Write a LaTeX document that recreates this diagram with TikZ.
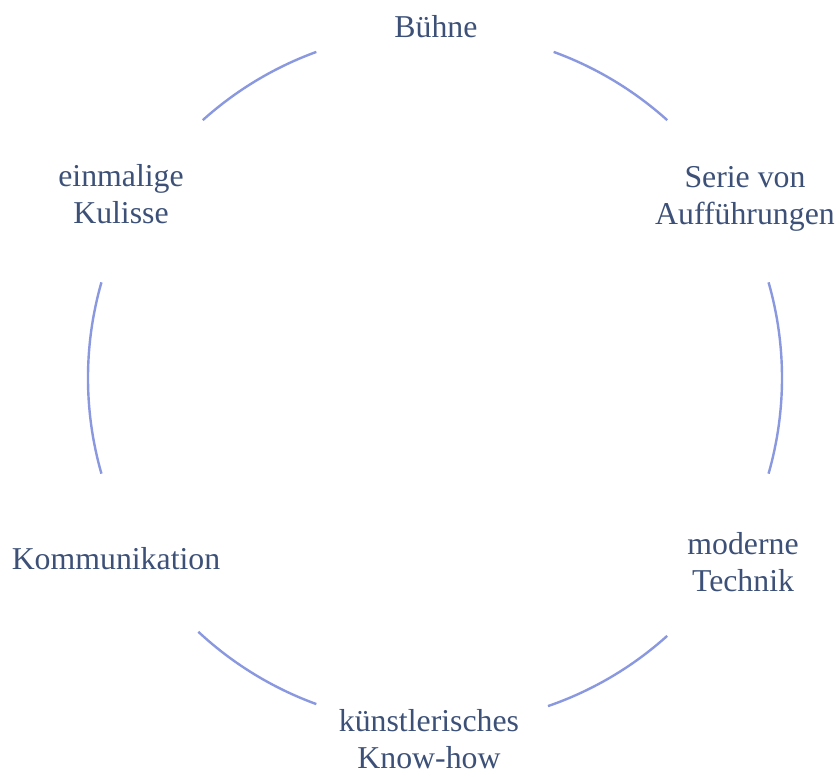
\documentclass[tikz,border=0pt]{standalone}
\usepackage{fontspec}
\setmainfont{Liberation Serif}
\definecolor{labelblue}{HTML}{3D5178}
\definecolor{ringblue}{HTML}{8A98E0}
\tikzset{
  label text/.style = {text = labelblue, align = center, inner sep = 0pt,
    font = \fontsize{15.9}{18.5}\selectfont},
  ring/.style = {draw = ringblue, line width = 1.2pt}
}

\begin{document}
\begin{tikzpicture}[x = 0.5pt, y = 0.5pt]
      \useasboundingbox (-435, -398) rectangle (405, 378);
      \coordinate (c) at (0, 0);
      \node[label text] (buehne) at (1, 351) {Bühne};
      \node[label text] (serie) at (310, 179) {Serie von\\Aufführungen};
      \node[label text] (technik) at (308, -184) {moderne\\Technik};
      \node[label text] (knowhow) at (-6, -361) {künstlerisches\\Know-how};
      \node[label text] (komm) at (-319, -181) {Kommunikation};
      \node[label text] (kulisse) at (-314, 184) {einmalige\\Kulisse};
      \draw[ring] (c) ++(48:173.5pt) arc[start angle = 48, end angle = 70, radius = 173.5pt];
      \draw[ring] (c) ++(-16:173.5pt) arc[start angle = -16, end angle = 16, radius = 173.5pt];
      \draw[ring] (c) ++(-71:173.5pt) arc[start angle = -71, end angle = -48, radius = 173.5pt];
      \draw[ring] (c) ++(-133:173.5pt) arc[start angle = -133, end angle = -110, radius = 173.5pt];
      \draw[ring] (c) ++(164:173.5pt) arc[start angle = 164, end angle = 196, radius = 173.5pt];
      \draw[ring] (c) ++(110:173.5pt) arc[start angle = 110, end angle = 132, radius = 173.5pt];
    \end{tikzpicture}
\end{document}
